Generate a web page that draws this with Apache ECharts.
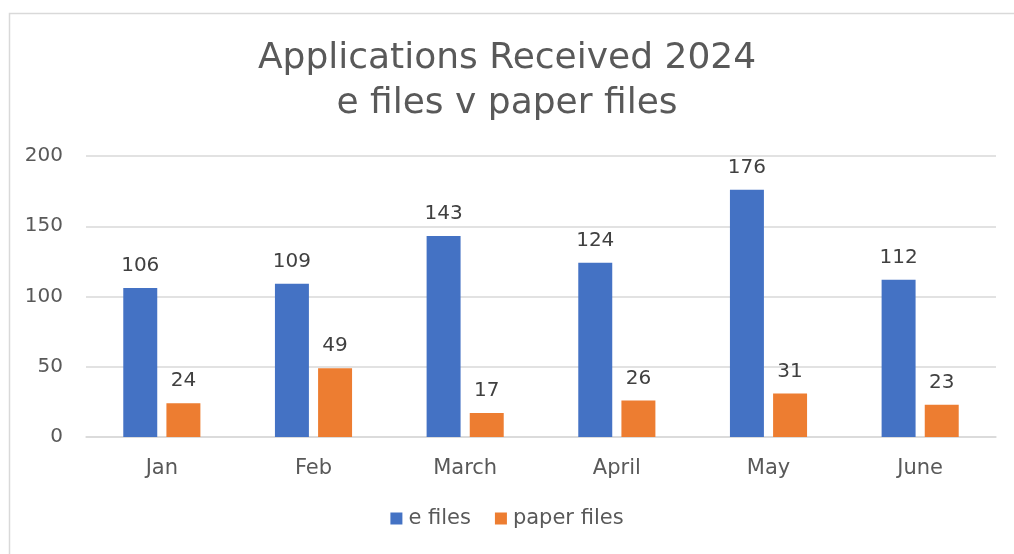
<!DOCTYPE html>
<html>
<head>
<meta charset="utf-8">
<script src="https://cdn.jsdelivr.net/npm/echarts@6/dist/echarts.min.js"></script>
<style>html,body{margin:0;padding:0;background:#fff;}#c{width:1014px;height:554px;}</style>
</head>
<body>
<div id="c"></div>
<script>
const titleLines = ["Applications Received 2024", "e files v paper files"];
const categories = ["Jan", "Feb", "March", "April", "May", "June"];
const seriesNames = ["e files", "paper files"];
const eFiles = [106, 109, 143, 124, 176, 112];
const paperFiles = [24, 49, 17, 26, 31, 23];
const yTicks = { min: 0, max: 200, interval: 50 };

const FONT = "DejaVu Sans";
const TXT = "#595959";
const chart = echarts.init(document.getElementById('c'), null, { renderer: 'canvas' });
const labelStyle = { show: true, position: 'top', distance: 12, color: '#404040', fontSize: 20, fontFamily: FONT };
chart.setOption({
  animation: false,
  backgroundColor: '#fff',
  graphic: [{
    type: 'rect', left: 7, top: 11, shape: { width: 1020, height: 560 },
    style: { fill: 'none', stroke: '#d9d9d9', lineWidth: 1.5 }, silent: true
  }],
  title: {
    text: titleLines.join('\n'), left: 'center', top: 31,
    textStyle: { color: TXT, fontSize: 36, fontWeight: 'normal', fontFamily: FONT, lineHeight: 45 }
  },
  legend: {
    data: seriesNames, bottom: 20, left: 'center', itemWidth: 12, itemHeight: 12, itemGap: 24,
    icon: 'rect', textStyle: { color: TXT, fontSize: 21, fontFamily: FONT, padding: [0, 0, 0, 1] }
  },
  grid: { left: 86, right: 18, top: 156, bottom: 117, containLabel: false },
  xAxis: {
    type: 'category', data: categories,
    axisLine: { lineStyle: { color: '#d9d9d9', width: 1.5 } }, axisTick: { show: false },
    axisLabel: { color: TXT, fontSize: 21, fontFamily: FONT, margin: 21 }
  },
  yAxis: {
    type: 'value', min: yTicks.min, max: yTicks.max, interval: yTicks.interval,
    axisLine: { show: false }, axisTick: { show: false },
    axisLabel: { color: TXT, fontSize: 20, fontFamily: FONT, margin: 23 },
    splitLine: { lineStyle: { color: '#d9d9d9', width: 1.5 } }
  },
  series: [
    { name: seriesNames[0], type: 'bar', data: eFiles, barWidth: '22.4%', barGap: '27%',
      itemStyle: { color: '#4472c4' }, label: labelStyle },
    { name: seriesNames[1], type: 'bar', data: paperFiles, barWidth: '22.4%', barGap: '27%',
      itemStyle: { color: '#ed7d31' }, label: labelStyle }
  ]
});
</script>
</body>
</html>
